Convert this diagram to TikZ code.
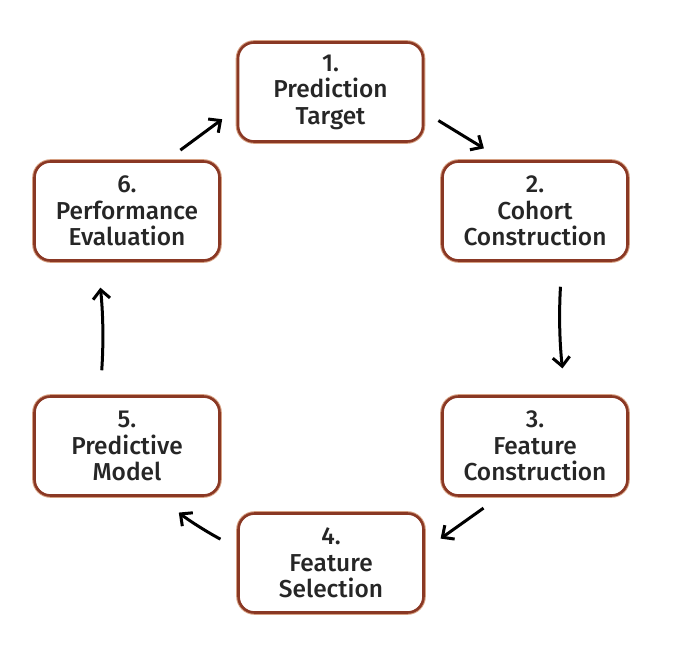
\documentclass[tikz,border=0pt]{standalone}
\usepackage{fontspec}
\setmainfont{Fira Sans}[UprightFont=* Medium]
\usetikzlibrary{arrows.meta}

\definecolor{stepred}{RGB}{138,56,36}
\definecolor{stepglow}{RGB}{214,160,130}

\tikzset{
  stepbox/.style={draw=stepred, line width=2.6pt, rounded corners=16pt, fill=white,
    minimum width=185pt, minimum height=99pt, align=center, font=\fontsize{24.5}{26.5}\selectfont,
    text=black!85, preaction={draw=stepglow, line width=4.6pt}},
  flow/.style={line width=3pt, -{Straight Barb[length=9pt,width=17pt,line width=3pt]}}
}

\begin{document}
\begin{tikzpicture}[x=1pt,y=1pt,yscale=-1,xscale=1]
        \useasboundingbox[fill=white] (0,0) rectangle (686,662);

        %Shape: Rounded Rectangle [id:step1]
        \node [stepbox] (b1) at (330.5,92) {1.\\Prediction\\Target};
        %Shape: Rounded Rectangle [id:step2]
        \node [stepbox] (b2) at (535,211) {2.\\Cohort\\Construction};
        %Shape: Rounded Rectangle [id:step3]
        \node [stepbox] (b3) at (535,446) {3.\\Feature\\Construction};
        %Shape: Rounded Rectangle [id:step4]
        \node [stepbox] (b4) at (331,563) {4.\\Feature\\Selection};
        %Shape: Rounded Rectangle [id:step5]
        \node [stepbox] (b5) at (127,446) {5.\\Predictive\\Model};
        %Shape: Rounded Rectangle [id:step6]
        \node [stepbox] (b6) at (127,211) {6.\\Performance\\Evaluation};

        %Straight Lines [id:cycle]
        \draw [flow, shorten <=17pt, shorten >=18pt] (b6.52.6) -- (b1.190.5);
        \draw [flow, shorten <=16.5pt, shorten >=22.7pt] (b1.348.3) -- (b2.122.7);
        \draw [flow, shorten <=25pt, shorten >=27pt] (b2.298.8) to [bend left=5] (b3.59.5);
        \draw [flow, shorten <=19.5pt, shorten >=19.4pt] (b3.235.6) -- (b4.8.6);
        \draw [flow, shorten <=19pt, shorten >=25.5pt] (b4.171.2) to [bend right=5] (b5.302.7);
        \draw [flow, shorten <=25pt, shorten >=26pt] (b5.118.8) to [bend left=5] (b6.240.4);

        \end{tikzpicture}
\end{document}
